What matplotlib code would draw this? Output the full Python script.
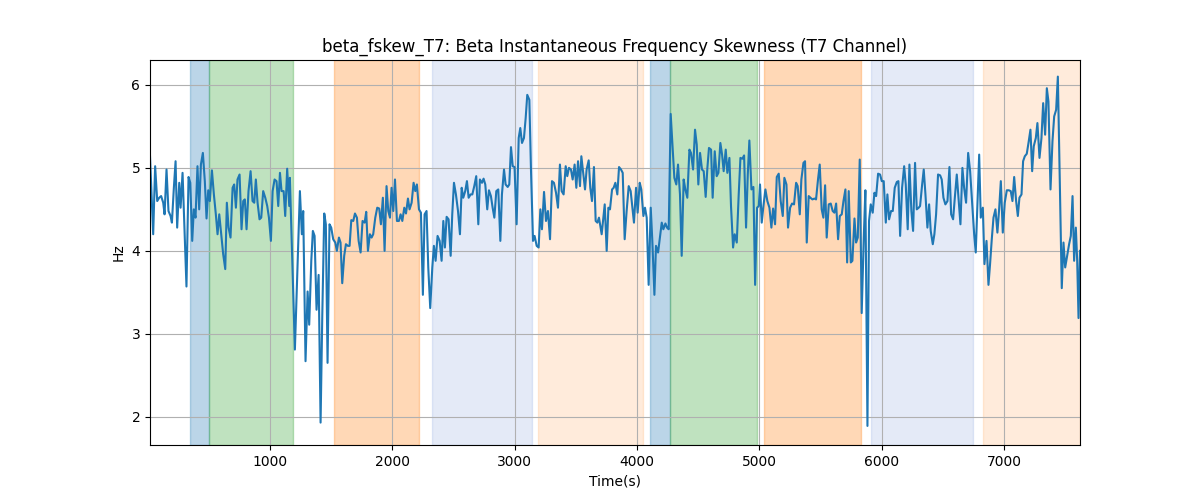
import matplotlib
matplotlib.use("Agg")
import matplotlib.pyplot as plt

title = "beta_fskew_T7: Beta Instantaneous Frequency Skewness (T7 Channel)"

times = [20, 46, 62, 79, 95, 111, 128, 139, 155, 171, 188, 199, 215, 229, 242, 259, 270, 286, 318, 335,
         349, 365, 378, 392, 408, 422, 436, 452, 468, 482, 496, 509, 526, 542, 558, 572, 586, 599, 618, 635,
         648, 662, 678, 695, 708, 722, 735, 752, 768, 782, 795, 809, 825, 842, 858, 872, 885, 899, 915, 929,
         945, 962, 978, 992, 1008, 1022, 1038, 1054, 1068, 1082, 1095, 1112, 1125, 1141, 1158,
         1163, 1204, 1245, 1261, 1272, 1291, 1308, 1321, 1338, 1351, 1365, 1381, 1398, 1414, 1428, 1444, 1457,
         1471, 1487, 1501, 1517, 1534, 1547, 1564, 1577, 1591, 1607, 1621, 1637, 1651, 1665, 1681, 1695, 1711,
         1725, 1741, 1757, 1774, 1787, 1801, 1817, 1831, 1844, 1861, 1877, 1893, 1907, 1923, 1937, 1953, 1967,
         1981, 1994, 2008, 2022, 2038, 2054, 2068, 2082, 2098, 2112, 2128, 2141, 2158, 2174, 2188, 2201, 2218,
         2234, 2250, 2264, 2280, 2294, 2310, 2327, 2340, 2354, 2370, 2387,
         2403, 2417, 2430, 2444, 2460, 2477, 2490, 2504, 2520, 2537, 2553, 2567, 2580, 2596, 2610, 2624, 2640,
         2654, 2670, 2686, 2703, 2716, 2733, 2746, 2760, 2776, 2790, 2806, 2820, 2834, 2850, 2866, 2883, 2896,
         2913, 2926, 2943, 2956, 2970, 2984, 2999, 3016, 3033, 3046, 3060, 3076, 3090, 3103, 3120, 3133, 3150,
         3163, 3180, 3196, 3210, 3223, 3240, 3256, 3272, 3289, 3305, 3321, 3338, 3354, 3370, 3384, 3400, 3417,
         3430, 3444, 3460, 3474, 3490, 3504, 3518, 3534, 3545, 3561, 3575, 3588, 3605, 3618, 3632, 3648, 3662,
         3676, 3689,
         3711, 3736, 3752, 3766, 3779, 3796, 3809, 3823, 3839, 3853, 3869, 3883, 3899, 3915, 3932, 3948, 3962,
         3975, 3992, 4005, 4022, 4035, 4052, 4065, 4079, 4095, 4112, 4125, 4142, 4155, 4172, 4185, 4202, 4215,
         4232, 4245, 4259, 4275, 4291, 4305, 4321, 4335, 4351, 4365, 4381, 4395, 4411, 4428, 4441, 4458, 4474,
         4488, 4501, 4515, 4531, 4545, 4561, 4575, 4588, 4605, 4618, 4635, 4651, 4665, 4681, 4695, 4708, 4725,
         4738, 4755, 4768, 4785, 4798, 4815, 4831, 4845, 4861, 4875, 4891, 4905, 4918, 4935, 4951, 4965, 4981,
         4995,
         5005, 5019, 5033, 5049, 5065, 5082, 5098, 5112, 5128, 5142, 5158, 5174, 5191, 5204, 5221, 5234, 5251,
         5267, 5283, 5300, 5313, 5330, 5343, 5360, 5373, 5387, 5403, 5417, 5433, 5450, 5463, 5479, 5493, 5509,
         5523, 5537, 5550, 5567, 5583, 5599, 5613, 5627, 5643, 5657, 5673, 5687, 5703, 5717, 5730, 5747, 5760,
         5777, 5790, 5804, 5820, 5836, 5853, 5866, 5883, 5896, 5910, 5926, 5940, 5954, 5970, 5986, 6000, 6016,
         6033, 6046, 6060, 6076, 6090, 6106, 6123, 6136, 6150, 6166, 6183, 6196, 6212, 6226, 6242, 6256, 6272,
         6286, 6302,
         6313, 6330, 6343, 6357, 6373, 6387, 6400, 6417, 6430, 6444, 6460, 6477, 6490, 6504, 6520, 6537, 6553,
         6567, 6583, 6597, 6613, 6629, 6643, 6659, 6673, 6689, 6706, 6722, 6738, 6755, 6768, 6782, 6796, 6809,
         6826, 6839, 6856, 6872, 6885, 6899, 6913, 6929, 6945, 6959, 6973, 6989, 7005, 7022, 7038, 7054, 7068,
         7082, 7098, 7112, 7125, 7142, 7155, 7169, 7185, 7199, 7215, 7229, 7242, 7259, 7272, 7289, 7305, 7319,
         7335, 7349, 7362, 7379, 7395, 7409, 7425, 7439, 7455, 7471, 7485, 7499, 7515, 7531, 7545, 7559, 7572,
         7586, 7597, 7608, 7620]

values = [5.14, 4.20, 5.02, 4.60, 4.64, 4.66, 4.58, 4.44, 4.98, 4.48, 4.42, 4.34, 4.76, 5.08, 4.28, 4.82, 4.52, 4.94, 3.57, 4.89,
          4.82, 4.12, 4.50, 4.40, 5.02, 4.50, 5.04, 5.18, 4.84, 4.39, 4.73, 4.60, 4.97, 4.68, 4.44, 4.20, 4.44, 4.24, 3.96, 3.78,
          4.58, 4.28, 4.16, 4.76, 4.80, 4.52, 4.86, 4.92, 4.26, 4.60, 4.62, 4.26, 4.72, 4.96, 4.60, 4.58, 4.86, 4.58, 4.38, 4.40,
          4.72, 4.64, 4.54, 4.40, 4.12, 4.72, 4.86, 4.84, 4.54, 4.94, 4.72, 4.72, 4.42, 4.99, 4.54,
          4.88, 2.81, 4.72, 4.20, 4.48, 2.67, 3.51, 3.11, 3.88, 4.24, 4.18, 3.29, 3.71, 1.93, 3.23, 4.45, 4.32,
          2.65, 4.32, 4.28, 4.14, 4.10, 4.00, 4.16, 4.10, 3.61, 3.94, 4.08, 4.06, 4.06, 4.37, 4.36, 4.45, 4.40,
          4.12, 3.98, 4.36, 4.34, 4.47, 4.00, 4.20, 4.16, 4.20, 4.40, 4.52, 4.51, 4.32, 4.64, 4.00, 4.78, 4.48,
          4.40, 4.76, 4.48, 4.86, 4.36, 4.36, 4.44, 4.36, 4.52, 4.45, 4.63, 4.50, 4.58, 4.82, 4.72, 4.80, 4.50,
          4.46, 3.47, 4.44, 4.48, 3.80, 3.31, 3.80, 4.06, 3.88, 4.18, 4.12,
          3.88, 4.36, 4.04, 4.41, 4.38, 3.94, 4.44, 4.82, 4.68, 4.48, 4.20, 4.76, 4.64, 4.72, 4.84, 4.64, 4.68,
          4.68, 4.78, 4.90, 4.32, 4.86, 4.82, 4.87, 4.80, 4.50, 4.73, 4.66, 4.52, 4.40, 4.72, 4.74, 4.12, 4.68,
          4.98, 4.80, 4.77, 4.80, 5.25, 5.02, 5.01, 4.32, 5.36, 5.48, 5.30, 5.36, 5.60, 5.88, 5.82, 5.00, 4.12,
          4.18, 4.06, 4.04, 4.50, 4.26, 4.71, 4.36, 4.48, 4.14, 4.84, 4.82, 4.70, 4.52, 5.04, 4.72, 4.68, 5.02,
          4.90, 5.00, 4.98, 4.86, 5.04, 4.76, 5.08, 4.78, 5.14, 4.92, 4.74, 4.98, 5.09, 4.76, 4.60, 5.01, 4.36,
          4.34, 4.40,
          4.20, 4.56, 4.00, 4.52, 4.50, 4.74, 4.76, 4.82, 4.68, 5.01, 4.98, 4.94, 4.14, 4.48, 4.78, 4.72, 4.52,
          4.34, 4.76, 4.46, 4.82, 4.74, 4.42, 4.52, 4.40, 3.59, 4.52, 4.12, 3.47, 4.06, 3.98, 4.14, 4.34, 4.26,
          4.33, 4.28, 4.26, 5.65, 5.24, 4.88, 4.80, 5.04, 4.68, 3.94, 4.86, 4.74, 4.64, 5.22, 5.18, 4.98, 5.46,
          5.28, 4.80, 5.18, 4.98, 4.96, 4.65, 5.00, 5.24, 5.22, 4.64, 5.20, 4.90, 4.94, 5.30, 5.16, 4.96, 5.22,
          4.94, 5.12, 4.54, 4.04, 4.20, 4.10, 4.68, 5.12, 5.11, 5.15, 4.28, 4.92, 5.33, 4.74, 4.77, 3.59, 4.52,
          4.54,
          4.80, 4.34, 4.54, 4.74, 4.60, 4.52, 4.28, 4.51, 4.32, 4.89, 4.93, 4.60, 4.42, 4.88, 4.80, 4.28, 4.52,
          4.57, 4.56, 4.82, 4.78, 4.44, 4.86, 5.06, 5.08, 4.10, 4.66, 4.64, 4.62, 4.63, 4.62, 4.86, 5.04, 4.50,
          4.40, 4.79, 4.16, 4.56, 4.57, 4.48, 4.46, 4.57, 4.14, 4.42, 4.44, 4.60, 4.74, 3.86, 4.72, 3.86, 3.88,
          4.39, 4.10, 4.16, 5.10, 3.25, 4.16, 4.73, 1.89, 4.36, 4.56, 4.46, 4.70, 4.66, 4.93, 4.92, 4.84, 4.84,
          4.34, 4.68, 4.38, 4.48, 4.48, 4.76, 4.83, 4.84, 4.18, 4.76, 5.02, 4.80, 4.26, 5.04, 4.48, 4.24, 5.06,
          4.50, 4.52,
          4.54, 4.80, 4.98, 4.68, 4.28, 4.56, 4.24, 4.08, 4.20, 4.44, 4.92, 4.91, 4.86, 4.64, 4.56, 4.60, 5.01,
          4.44, 4.38, 4.64, 4.92, 4.60, 4.32, 5.00, 4.76, 4.58, 5.18, 4.96, 4.60, 4.20, 3.98, 4.58, 5.16, 4.40,
          4.52, 3.84, 4.12, 3.59, 3.84, 4.14, 4.40, 4.50, 4.22, 4.50, 4.84, 4.22, 4.58, 4.73, 4.73, 4.72, 4.60,
          4.89, 4.60, 4.42, 4.64, 4.68, 5.08, 5.14, 5.17, 5.30, 5.46, 4.96, 5.26, 5.36, 5.54, 5.12, 5.36, 5.78,
          5.40, 5.96, 5.80, 4.74, 5.32, 5.62, 5.70, 6.10, 4.82, 3.55, 4.10, 3.80, 3.94, 4.08, 4.18, 4.66, 3.88,
          4.28, 3.88, 3.19, 4.00]

span_starts = [346, 506, 1526, 2327, 3193, 4106, 4272, 5041, 5913, 6828]
span_ends = [506, 1190, 2215, 3139, 4052, 4272, 4978, 5828, 6744, 7620]
span_colors = ["tab:blue", "tab:green", "tab:orange", "#4a78cc", "tab:orange",
               "tab:blue", "tab:green", "tab:orange", "#4a78cc", "tab:orange"]
span_alphas = [0.3, 0.3, 0.3, 0.15, 0.15, 0.3, 0.3, 0.3, 0.15, 0.15]

fig, ax = plt.subplots(figsize=(12, 5), dpi=100)
for s, e, c, a in zip(span_starts, span_ends, span_colors, span_alphas):
    ax.axvspan(s, e, color=c, alpha=a)
ax.plot(times, values, color="tab:blue", linewidth=1.5)
ax.set_xlim(times[0], times[-1])
ax.set_ylim(1.66, 6.30)
ax.grid(True)
ax.set_title(title)
ax.set_xlabel("Time(s)")
ax.set_ylabel("Hz")
fig.savefig("out.png")
